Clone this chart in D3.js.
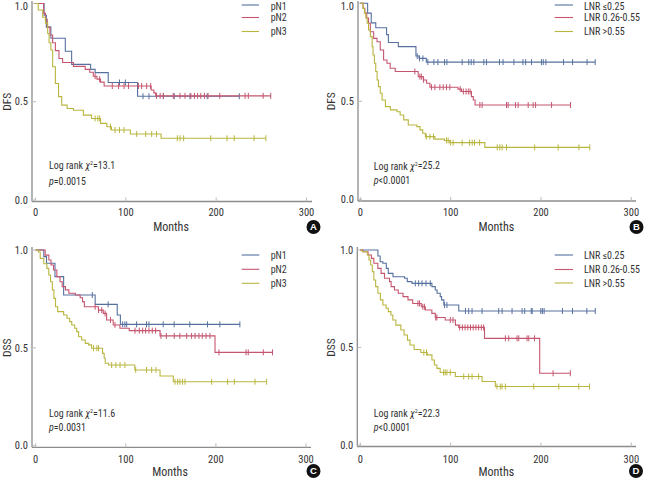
<!DOCTYPE html>
<html><head><meta charset="utf-8">
<script src="https://cdn.jsdelivr.net/npm/d3@7"></script>
<style>
body{margin:0;background:#fff}
text{font-family:'Liberation Sans Narrow','Arial Narrow','Roboto Condensed',sans-serif;fill:#333}
</style>
</head><body><svg id="c" width="646" height="480"></svg>
<script>
// ---------- tick labels / legends ----------
const xTicks = [0, 100, 200, 300];
const yTicks = [0.0, 0.5, 1.0];
const legendPN = ["pN1", "pN2", "pN3"];
const legendLNR = ["LNR \u22640.25", "LNR 0.26-0.55", "LNR >0.55"];
const colors = ["#56719f", "#c5566f", "#b9b640"];

// ---------- Panel A: DFS by pN ----------
const A_pN1_steps = [[0,1],[9.5,0.94],[12,0.88],[17,0.823],[33,0.757],[40,0.69],[61,0.665],[66,0.648],[80.5,0.598],[113,0.528]];
const A_pN1_cens = [93,99.5,119,125.6,141.5,153.6,171,190,225.6];
const A_pN2_steps = [[0,1],[9,0.95],[11,0.92],[13,0.88],[16,0.84],[19,0.8],[22,0.76],[26,0.72],[30,0.7],[42,0.68],[55,0.665],[60,0.65],[64,0.63],[68,0.615],[72,0.6],[76,0.58],[128,0.56],[131,0.545],[133,0.53]];
const A_pN2_cens = [66,71,85,92,98,103,114,117.5,123,127.5,134,138,141.5,152.5,160,165.5,172,176,179.5,183,187,191,204,232,235.6,252,260.4];
const A_pN3_steps = [[0,1],[3,0.967],[8,0.93],[11,0.9],[13.5,0.847],[15,0.8],[17,0.763],[19,0.678],[22,0.593],[25.5,0.526],[29,0.483],[35,0.466],[42,0.457],[53,0.432],[62,0.415],[72,0.39],[79,0.373],[84,0.356],[105,0.336],[139,0.314]];
const A_pN3_cens = [66,69,71,83,88,93,98,112,122,128.6,134,157,160,164,194,212,220,242,255];

// ---------- Panel B: DFS by LNR ----------
const B_L1_steps = [[0,1],[8,0.95],[12,0.9],[17,0.875],[29,0.84],[31,0.8],[42,0.779],[61.5,0.731],[65,0.719],[73,0.7]];
const B_L1_cens = [62.9,65.5,69.2,74.7,81.4,85.8,93.2,95.8,112.7,120,122.7,125.6,136.7,139.7,154,158,170,180,183,189.5,200.5,202.5,205.4,225,235,251,260];
const B_L2_steps = [[0,1],[3,0.974],[5,0.95],[7,0.925],[9,0.898],[11,0.855],[14.7,0.821],[18.4,0.804],[22,0.762],[25.7,0.711],[29.4,0.694],[33,0.669],[38.6,0.652],[64,0.626],[69.6,0.609],[73.3,0.592],[77,0.572],[108,0.562],[112,0.55],[123,0.524],[125,0.507],[127,0.481]];
const B_L2_cens = [60.3,65.9,67.5,70,78.8,82.5,88,91.7,95.4,99,110.5,114,117,119.5,121.5,132.3,134.8,161.8,163.6,171.8,174.7,185.8,191.3,194,211.7,232.7];
const B_L3_steps = [[0,1],[3,0.974],[4.5,0.95],[6,0.925],[7.5,0.898],[9,0.864],[11,0.83],[13,0.779],[14,0.736],[15.5,0.694],[17,0.652],[18.5,0.609],[20,0.575],[22,0.541],[24,0.507],[27.7,0.473],[33.2,0.456],[40.6,0.447],[44,0.43],[48,0.405],[53,0.379],[62.5,0.371],[66,0.354],[69,0.337],[72,0.32],[82.5,0.307],[93,0.3],[99,0.289],[137.8,0.265]];
const B_L3_cens = [73,77,81,95.4,97.2,99.7,102.7,112.7,120.8,123.8,126.4,132,151.5,154.4,157,161.8,193,219,242,254];

// ---------- Panel C: DSS by pN ----------
const C_pN1_steps = [[0,1],[9,0.966],[12,0.932],[21.4,0.864],[31,0.77],[66,0.722],[90.5,0.668],[94,0.62]];
const C_pN1_cens = [62.8,80.4,96.5,99,101,112,123,125.7,141.5,153.7,171,190.7,204.4,226.6];
const C_pN2_steps = [[0,1],[10.5,0.974],[14.6,0.949],[17,0.923],[19.8,0.898],[23.5,0.864],[27,0.838],[29.4,0.813],[33,0.796],[36.8,0.779],[44,0.77],[49.3,0.756],[52,0.736],[54,0.71],[69.6,0.693],[75,0.676],[78.7,0.642],[86,0.617],[93.5,0.6],[103.8,0.588],[138,0.561],[199,0.477]];
const C_pN2_cens = [66,69.7,73.3,77,83,88,110.2,115,118.7,122,125.7,129.4,133.1,139,145,153.8,160,167.6,173,176.8,181.2,184.9,189,193.4,203.4,233.4,235.9,252.6,262.8];
const C_pN3_steps = [[0,1],[3,0.99],[5,0.957],[9,0.93],[12.4,0.906],[14.5,0.872],[16.5,0.838],[18.5,0.796],[20.2,0.753],[22,0.71],[24.4,0.685],[31,0.668],[34.7,0.651],[37.7,0.634],[40,0.617],[43.2,0.6],[45.5,0.583],[47.6,0.557],[51,0.54],[55,0.523],[58.7,0.515],[62,0.498],[74.2,0.472],[76,0.447],[77.2,0.421],[80.9,0.412],[110,0.387],[138,0.356],[152.7,0.327]];
const C_pN3_cens = [64.2,67.9,69.7,84.3,89,93.6,99,111,123,128.7,133.5,154.6,157.6,160,163,165.7,195.3,213,220.5,243.4,256.3];

// ---------- Panel D: DSS by LNR ----------
const D_L1_steps = [[0,1],[19.5,0.969],[22,0.94],[25,0.932],[28.8,0.906],[31,0.88],[36.2,0.863],[49,0.855],[52,0.838],[57.2,0.829],[79.3,0.812],[83,0.795],[85,0.778],[88.5,0.761],[90,0.744],[92.5,0.718],[109,0.687]];
const D_L1_cens = [60.9,64.6,68.3,72.7,77.5,93.3,95.9,116.4,120,123.7,134.8,153.2,157,168,179.1,182,189.2,190.3,199.8,201.6,203.5,223.8,234.9,250.8,260.1];
const D_L2_steps = [[0,1],[3,0.991],[8.6,0.974],[12.3,0.957],[15,0.932],[19.4,0.906],[23,0.88],[26.8,0.855],[32.3,0.838],[34.1,0.812],[37.8,0.795],[42,0.778],[47.3,0.761],[52.8,0.744],[58,0.726],[67.5,0.709],[72,0.692],[79.2,0.675],[83,0.654],[94,0.641],[105.3,0.615],[109,0.603],[137.5,0.547],[198.6,0.368]];
const D_L2_cens = [63.8,65.6,69.2,71,83.5,84.8,99.6,102.6,110,113,116,119,122,125,128,131,134,136.5,160.6,164.3,173.5,175.4,184.6,186.5,192.8,213.4,232.5];
const D_L3_steps = [[0,1],[2.2,0.991],[7.8,0.974],[9.6,0.949],[11.5,0.923],[13.3,0.889],[15,0.846],[17,0.812],[19.5,0.778],[22.3,0.744],[25,0.718],[28.6,0.701],[31,0.684],[33.9,0.667],[36,0.641],[39.4,0.615],[44.9,0.59],[48.5,0.564],[52.2,0.538],[55,0.513],[59.6,0.49],[67,0.474],[74,0.462],[79.3,0.436],[82,0.41],[84.8,0.393],[88.4,0.372],[105.2,0.351],[134.8,0.326],[149.5,0.3]];
const D_L3_cens = [70.3,73.3,92.2,94,95.9,99.6,114.5,120,123.7,131,151.3,155,156.9,160.6,192,219.7,241.8,253.7];

const panels = [
  {badge:"A", yLabel:"DFS", legend:legendPN, chi:"13.1", pOp:"=", pVal:"0.0015",
   series:[[A_pN1_steps,A_pN1_cens],[A_pN2_steps,A_pN2_cens],[A_pN3_steps,A_pN3_cens]],
   L:{yAxisX:32, x0:35.5, x300:306.5, axisEnd:312, y1:3.5, y0:200, xAxisY:201.5, axisTop:1,
      legX1:241.7, legX2:259, legTX:270.7, legY:[5,17.5,31.5], statX:49, statY:[165.5,181.5],
      badgeX:313.5, badgeY:227, monthsX:171, monthsY:226.5, yLabX:7, tickLabY:212.5}},
  {badge:"B", yLabel:"DFS", legend:legendLNR, chi:"25.2", pOp:"<", pVal:"0.0001",
   series:[[B_L1_steps,B_L1_cens],[B_L2_steps,B_L2_cens],[B_L3_steps,B_L3_cens]],
   L:{yAxisX:358, x0:360.4, x300:631.3, axisEnd:636, y1:3.3, y0:199.3, xAxisY:201, axisTop:1,
      legX1:554.7, legX2:573, legTX:584, legY:[5,17.5,31.5], statX:373.7, statY:[166,180.7],
      badgeX:636.5, badgeY:227, monthsX:496.3, monthsY:226.5, yLabX:331, tickLabY:212.5}},
  {badge:"C", yLabel:"DSS", legend:legendPN, chi:"11.6", pOp:"=", pVal:"0.0031",
   series:[[C_pN1_steps,C_pN1_cens],[C_pN2_steps,C_pN2_cens],[C_pN3_steps,C_pN3_cens]],
   L:{yAxisX:32, x0:35.7, x300:306, axisEnd:311, y1:250, y0:445.7, xAxisY:447.3, axisTop:247,
      legX1:241.7, legX2:259.3, legTX:270.7, legY:[255,269.3,283.3], statX:49, statY:[413.3,427],
      badgeX:313.5, badgeY:471, monthsX:170, monthsY:471.7, yLabX:7, tickLabY:459}},
  {badge:"D", yLabel:"DSS", legend:legendLNR, chi:"22.3", pOp:"<", pVal:"0.0001",
   series:[[D_L1_steps,D_L1_cens],[D_L2_steps,D_L2_cens],[D_L3_steps,D_L3_cens]],
   L:{yAxisX:357.3, x0:360.3, x300:631.3, axisEnd:636, y1:250, y0:445, xAxisY:446.5, axisTop:247,
      legX1:554.7, legX2:573, legTX:584, legY:[255,269.5,283], statX:373.7, statY:[413.3,427],
      badgeX:636, badgeY:471, monthsX:496.3, monthsY:471.7, yLabX:331, tickLabY:459}}
];

const svg = d3.select("#c");
const axisColor = "#8c8c8c";

function survAt(steps, t){
  let s = 1;
  for (const [tt, ss] of steps) { if (tt <= t) s = ss; else break; }
  return s;
}

panels.forEach(p => {
  const L = p.L;
  const g = svg.append("g");
  const x = d3.scaleLinear().domain([0,300]).range([L.x0, L.x300]);
  const y = d3.scaleLinear().domain([0,1]).range([L.y0, L.y1]);

  g.append("line").attr("x1",L.yAxisX).attr("x2",L.yAxisX).attr("y1",L.axisTop).attr("y2",L.xAxisY)
    .attr("stroke",axisColor).attr("stroke-width",1.3);
  g.append("line").attr("x1",L.yAxisX).attr("x2",L.axisEnd).attr("y1",L.xAxisY).attr("y2",L.xAxisY)
    .attr("stroke",axisColor).attr("stroke-width",1.3);

  yTicks.forEach(v => {
    g.append("line").attr("x1",L.yAxisX).attr("x2",L.yAxisX+4).attr("y1",y(v)).attr("y2",y(v))
      .attr("stroke","#bbb").attr("stroke-width",1);
    g.append("text").attr("x",L.yAxisX-4).attr("y",Math.max(y(v), 6)).attr("dy","0.35em")
      .attr("text-anchor","end").attr("font-size",10.5).text(d3.format(".1f")(v));
  });
  xTicks.forEach(v => {
    g.append("line").attr("x1",x(v)).attr("x2",x(v)).attr("y1",L.xAxisY).attr("y2",L.xAxisY-4)
      .attr("stroke","#bbb").attr("stroke-width",1);
    g.append("text").attr("x",x(v)).attr("y",L.tickLabY).attr("dy","0.35em")
      .attr("text-anchor","middle").attr("font-size",10.5).text(v);
  });

  g.append("text").attr("x",L.monthsX).attr("y",L.monthsY).attr("dy","0.35em")
    .attr("text-anchor","middle").attr("font-size",12).text("Months");
  g.append("text").attr("transform",`translate(${L.yLabX},${(L.y0+L.y1)/2}) rotate(-90)`)
    .attr("dy","0.35em").attr("text-anchor","middle").attr("font-size",11.5).text(p.yLabel);

  const line = d3.line().x(d=>x(d[0])).y(d=>y(d[1])).curve(d3.curveStepAfter);
  p.series.forEach(([steps, cens], i) => {
    const endT = Math.max(d3.max(cens), steps[steps.length-1][0]);
    const pts = steps.concat([[endT, steps[steps.length-1][1]]]);
    g.append("path").attr("d", line(pts)).attr("fill","none")
      .attr("stroke",colors[i]).attr("stroke-width",1.1);
    g.selectAll(null).data(cens).enter().append("line")
      .attr("x1",d=>x(d)).attr("x2",d=>x(d))
      .attr("y1",d=>y(survAt(steps,d))-3).attr("y2",d=>y(survAt(steps,d))+3)
      .attr("stroke",colors[i]).attr("stroke-width",1);
  });

  p.legend.forEach((name, i) => {
    g.append("line").attr("x1",L.legX1).attr("x2",L.legX2).attr("y1",L.legY[i]).attr("y2",L.legY[i])
      .attr("stroke",colors[i]).attr("stroke-width",1.1);
    g.append("text").attr("x",L.legTX).attr("y",Math.max(L.legY[i],6)).attr("dy","0.35em")
      .attr("font-size",10).text(name);
  });

  const t1 = g.append("text").attr("x",L.statX).attr("y",L.statY[0]).attr("dy","0.35em").attr("font-size",10);
  t1.append("tspan").text("Log rank ");
  t1.append("tspan").attr("font-style","italic").text("\u03C7");
  t1.append("tspan").attr("font-size",6).attr("dy","-0.6em").text("2");
  t1.append("tspan").attr("dy","0.35em").text("=" + p.chi);
  const t2 = g.append("text").attr("x",L.statX).attr("y",L.statY[1]).attr("dy","0.35em").attr("font-size",10);
  t2.append("tspan").attr("font-style","italic").text("p");
  t2.append("tspan").text(p.pOp + p.pVal);

  g.append("circle").attr("cx",L.badgeX).attr("cy",L.badgeY).attr("r",7).attr("fill","#111");
  g.append("text").attr("x",L.badgeX).attr("y",L.badgeY).attr("dy","0.36em").attr("text-anchor","middle")
    .attr("font-size",9.5).attr("font-weight","bold").style("fill","#fff")
    .style("font-family","'Liberation Sans',Arial,sans-serif").text(p.badge);
});
</script>
</body></html>
